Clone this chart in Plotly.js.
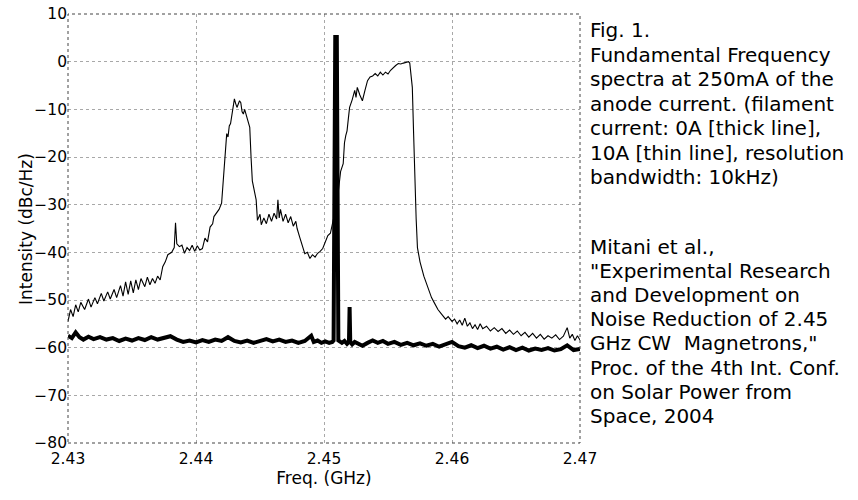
<!DOCTYPE html>
<html>
<head>
<meta charset="utf-8">
<script src="https://cdn.plot.ly/plotly-3.0.1.min.js"></script>
<style>html,body{margin:0;padding:0;background:#fff;}#chart{width:858px;height:500px;}</style>
</head>
<body>
<div id="chart"></div>
<script>
// Thin line: filament current 10A
const freqThin = [
2.4300,2.4302,2.4304,2.4306,2.4308,2.4310,2.4313,2.4316,2.4318,2.4321,
2.4323,2.4326,2.4328,2.4331,2.4333,2.4336,2.4338,2.4341,2.4343,2.4345,
2.4347,2.4349,2.4351,2.4353,2.4355,2.4357,2.4360,2.4362,2.4364,2.4366,
2.4368,2.4370,2.4372,2.4374,2.4376,2.4378,2.4381,2.4383,2.4384,2.4385,
2.4387,2.4389,2.4391,2.4393,2.4395,2.4397,2.4399,2.4401,2.4403,2.4405,
2.4407,2.4409,2.4411,2.4413,2.4414,2.4416,2.4418,2.4420,2.4421,2.4422,
2.4423,2.4424,2.4425,2.4426,2.4427,2.4428,2.4429,2.4430,2.4431,2.4432,
2.4434,2.4435,2.4436,2.4437,2.4438,2.4440,2.4442,2.4443,2.4444,2.4447,
2.4448,2.4450,2.4451,2.4453,2.4455,2.4457,2.4459,2.4461,2.4463,2.4464,
2.4465,2.4466,2.4468,2.4470,2.4472,2.4474,2.4476,2.4478,2.4479,2.4481,
2.4483,2.4485,2.4487,2.4489,2.4491,2.4493,2.4495,2.4497,2.4499,2.4501,
2.4503,2.4505,2.4507,2.4509,2.4511,2.4512,2.4513,2.4515,2.4516,2.4517,
2.4518,2.4519,2.4520,2.4522,2.4524,2.4525,2.4526,2.4528,2.4530,2.4532,
2.4534,2.4536,2.4538,2.4540,2.4542,2.4544,2.4546,2.4548,2.4550,2.4552,
2.4554,2.4556,2.4558,2.4560,2.4562,2.4564,2.4566,2.4567,2.4569,2.4570,
2.4571,2.4572,2.4573,2.4575,2.4578,2.4580,2.4582,2.4584,2.4586,2.4589,
2.4592,2.4595,2.4597,2.4600,2.4602,2.4604,2.4606,2.4608,2.4610,2.4612,
2.4614,2.4616,2.4618,2.4620,2.4622,2.4624,2.4627,2.4630,2.4633,2.4636,
2.4639,2.4642,2.4645,2.4648,2.4651,2.4654,2.4657,2.4660,2.4663,2.4666,
2.4669,2.4672,2.4675,2.4678,2.4681,2.4684,2.4687,2.4690,2.4692,2.4694,
2.4696,2.4698,2.4700
];
const valThin = [
-54.5,-52.0,-53.5,-51.0,-52.5,-50.5,-52.0,-49.8,-51.5,-49.5,
-50.8,-48.6,-50.2,-48.3,-49.8,-47.8,-49.5,-47.0,-49.2,-46.2,
-48.8,-46.0,-48.5,-45.8,-47.8,-45.5,-47.2,-45.2,-46.8,-45.5,
-46.5,-45.0,-45.8,-43.0,-42.0,-40.5,-40.0,-39.0,-33.8,-38.2,
-38.8,-38.5,-40.2,-39.0,-39.6,-38.5,-39.8,-38.6,-39.5,-39.2,
-37.0,-37.8,-34.7,-34.0,-32.5,-31.6,-31.0,-29.7,-26.0,-21.4,
-18.0,-15.1,-15.8,-13.5,-13.0,-11.0,-9.5,-7.8,-8.8,-9.6,
-8.2,-8.6,-10.5,-11.0,-10.0,-12.2,-13.8,-20.0,-25.0,-29.0,
-33.3,-32.0,-34.2,-32.8,-34.0,-32.0,-33.5,-31.8,-33.0,-29.0,
-32.8,-31.0,-33.5,-32.0,-33.8,-32.5,-34.5,-33.5,-35.0,-36.8,
-38.5,-40.3,-40.0,-41.3,-40.5,-41.0,-40.2,-39.8,-39.2,-38.0,
-36.5,-36.0,-33.5,-31.0,-27.7,-25.0,-23.0,-21.4,-17.0,-15.5,
-14.5,-12.0,-9.6,-8.0,-6.0,-7.5,-5.4,-7.0,-8.2,-6.0,
-4.0,-3.2,-3.0,-2.5,-3.0,-2.2,-2.8,-2.2,-2.6,-1.8,
-1.2,-0.8,-0.4,-0.5,-0.3,-0.2,0.0,-0.3,-5.4,-15.0,
-25.0,-33.0,-39.0,-42.0,-45.0,-46.5,-48.0,-49.5,-50.5,-52.0,
-53.0,-54.0,-53.5,-54.5,-54.0,-55.0,-54.2,-55.3,-53.8,-55.5,
-54.8,-56.0,-55.2,-56.2,-55.0,-56.0,-55.5,-56.5,-55.8,-56.6,
-56.0,-57.0,-56.3,-57.2,-56.5,-57.5,-56.8,-57.8,-57.0,-58.0,
-57.2,-58.2,-57.5,-58.0,-57.3,-58.3,-57.6,-55.8,-58.0,-57.2,
-58.5,-57.5,-58.4
];

// Thick line: filament current 0A
const freqThick = [
2.4300,2.4303,2.4306,2.4309,2.4312,2.4316,2.4320,2.4325,2.4330,2.4335,
2.4340,2.4345,2.4350,2.4355,2.4360,2.4365,2.4370,2.4375,2.4380,2.4385,
2.4390,2.4395,2.4400,2.4405,2.4410,2.4415,2.4420,2.4425,2.4430,2.4435,
2.4440,2.4445,2.4450,2.4455,2.4460,2.4465,2.4470,2.4475,2.4480,2.4485,
2.4490,2.4492,2.4495,2.4498,2.4501,2.4504,2.45065,2.45075,2.45088,2.45100,
2.45112,2.4512,2.4514,2.4516,2.4518,2.45195,2.4520,2.45205,2.4522,2.4524,
2.4527,2.4530,2.4534,2.4538,2.4542,2.4546,2.4550,2.4555,2.4560,2.4565,
2.4570,2.4575,2.4580,2.4585,2.4590,2.4595,2.4600,2.4605,2.4610,2.4615,
2.4620,2.4625,2.4630,2.4635,2.4640,2.4645,2.4650,2.4655,2.4660,2.4665,
2.4670,2.4675,2.4680,2.4685,2.4690,2.4695,2.4700
];
const valThick = [
-57.5,-58.0,-56.8,-57.8,-58.3,-57.7,-58.2,-57.8,-58.3,-58.0,
-58.6,-58.1,-58.5,-58.0,-58.4,-57.8,-58.3,-58.0,-57.6,-58.3,
-58.8,-58.5,-58.9,-58.4,-58.8,-58.3,-58.6,-57.8,-58.6,-58.9,
-58.5,-59.0,-58.6,-58.2,-58.7,-58.3,-58.8,-58.5,-59.0,-58.6,
-57.5,-58.8,-58.5,-59.0,-58.7,-59.0,-58.8,-58.5,5.2,5.2,
-58.5,-58.6,-59.0,-58.6,-59.2,-58.8,-51.5,-58.8,-59.3,-58.8,
-59.2,-59.6,-59.0,-58.5,-59.0,-58.6,-59.2,-58.8,-59.4,-59.0,
-59.5,-59.1,-59.6,-59.2,-59.8,-59.3,-58.8,-59.7,-60.0,-59.5,
-60.1,-59.6,-60.2,-59.8,-60.4,-59.9,-60.5,-60.0,-60.6,-60.2,
-60.5,-60.1,-60.6,-60.3,-59.5,-60.5,-60.3
];

const xTickVals = [2.43, 2.44, 2.45, 2.46, 2.47];
const xTickText = ['2.43', '2.44', '2.45', '2.46', '2.47'];
const yTickVals = [-80, -70, -60, -50, -40, -30, -20, -10, 0, 10];

const xTitle = 'Freq. (GHz)';
const yTitle = 'Intensity (dBc/Hz)';

const captionLines = [
  'Fig. 1.',
  'Fundamental Frequency',
  'spectra at 250mA of the',
  'anode current. (filament',
  'current: 0A [thick line],',
  '10A [thin line], resolution',
  'bandwidth: 10kHz)'
];
const citationLines = [
  'Mitani et al.,',
  '"Experimental Research',
  'and Development on',
  'Noise Reduction of 2.45',
  'GHz CW\u00a0 Magnetrons,"',
  'Proc. of the 4th Int. Conf.',
  'on Solar Power from',
  'Space, 2004'
];

// layout geometry (pixels)
const W = 858, H = 500;
const mL = 68, mR = 278, mT = 14, mB = 57;
const plotW = W - mL - mR, plotH = H - mT - mB;
const pxToPaperX = px => (px - mL) / plotW;
const pxToPaperY = py => (H - mB - py) / plotH;

const annotations = [];
captionLines.forEach((t, i) => {
  annotations.push({
    text: t, xref: 'paper', yref: 'paper',
    x: pxToPaperX(588), y: pxToPaperY(30.5 + 24.4 * i),
    xanchor: 'left', yanchor: 'middle', showarrow: false,
    font: {family: 'DejaVu Sans', size: 20, color: '#000'}
  });
});
citationLines.forEach((t, i) => {
  annotations.push({
    text: t, xref: 'paper', yref: 'paper',
    x: pxToPaperX(588), y: pxToPaperY(247 + 24.1 * i),
    xanchor: 'left', yanchor: 'middle', showarrow: false,
    font: {family: 'DejaVu Sans', size: 20, color: '#000'}
  });
});
// y-axis title placed precisely
annotations.push({
  text: yTitle, xref: 'paper', yref: 'paper',
  x: pxToPaperX(26), y: pxToPaperY(229),
  xanchor: 'center', yanchor: 'middle', textangle: -90, showarrow: false,
  font: {family: 'DejaVu Sans', size: 17, color: '#000'}
});

const traces = [
  {x: freqThick, y: valThick, type: 'scatter', mode: 'lines', name: '0A (thick)',
   line: {color: '#000', width: 4, shape: 'linear'}},
  {x: freqThin, y: valThin, type: 'scatter', mode: 'lines', name: '10A (thin)',
   line: {color: '#000', width: 1.1, shape: 'linear'}}
];

const tickFont = {family: 'DejaVu Sans', size: 15.5, color: '#000'};

const layout = {
  width: W, height: H,
  margin: {l: mL, r: mR, t: mT, b: mB, pad: 0},
  paper_bgcolor: '#fff', plot_bgcolor: '#fff',
  showlegend: false,
  xaxis: {
    range: [2.43, 2.47], tickvals: xTickVals, ticktext: xTickText,
    showgrid: true, gridcolor: '#a8a8a8', griddash: 'dot', gridwidth: 1,
    zeroline: false, showline: false,
    ticks: 'outside', ticklen: 1, tickcolor: 'rgba(0,0,0,0)',
    tickfont: tickFont,
    title: {text: xTitle, font: {family: 'DejaVu Sans', size: 17, color: '#000'}, standoff: 4},
    automargin: false
  },
  yaxis: {
    range: [-80, 10], tickvals: yTickVals,
    showgrid: true, gridcolor: '#a8a8a8', griddash: 'dot', gridwidth: 1,
    zeroline: false, showline: false,
    ticks: '', ticklen: 0,
    tickfont: tickFont,
    automargin: false
  },
  shapes: [
    {type: 'rect', xref: 'paper', yref: 'paper', x0: 0, x1: 1, y0: 0, y1: 1,
     line: {color: '#444', width: 1, dash: 'dot'}, layer: 'above'}
  ],
  annotations: annotations
};

Plotly.newPlot('chart', traces, layout, {displayModeBar: false, staticPlot: true});
</script>
</body>
</html>
